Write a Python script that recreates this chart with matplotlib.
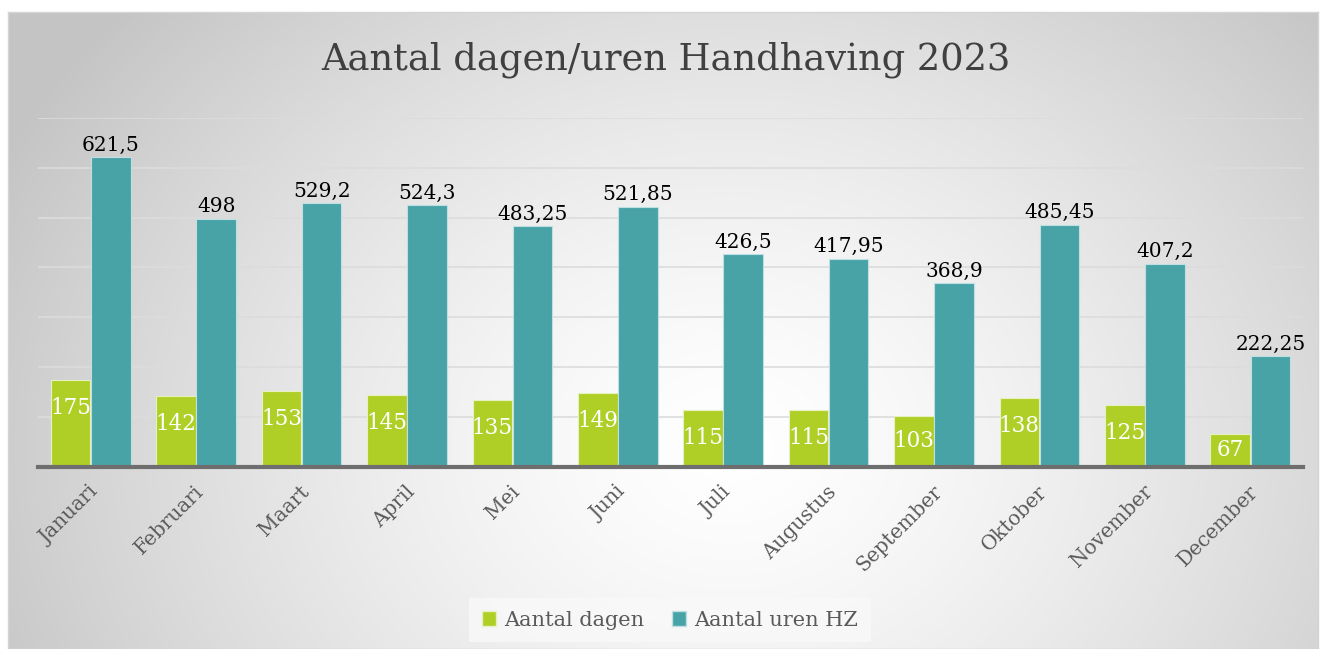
import numpy as np
import matplotlib
matplotlib.use("Agg")
import matplotlib.pyplot as plt
from matplotlib.patches import Patch

months = ["Januari", "Februari", "Maart", "April", "Mei", "Juni", "Juli",
          "Augustus", "September", "Oktober", "November", "December"]
dagen = [175, 142, 153, 145, 135, 149, 115, 115, 103, 138, 125, 67]
uren = [621.5, 498, 529.2, 524.3, 483.25, 521.85, 426.5, 417.95, 368.9,
        485.45, 407.2, 222.25]
uren_labels = ["621,5", "498", "529,2", "524,3", "483,25", "521,85", "426,5",
               "417,95", "368,9", "485,45", "407,2", "222,25"]
series_names = ["Aantal dagen", "Aantal uren HZ"]
title = "Aantal dagen/uren Handhaving 2023"

GREEN = "#afcf26"
TEAL = "#48a3a7"
FONT = "DejaVu Serif"

W, H = 1322, 649
fig = plt.figure(figsize=(W / 100, H / 100), dpi=100)
fig.patch.set_facecolor("white")

# gradient background panel
bg = fig.add_axes([8 / W, 0, 1 - 12 / W, 1 - 12 / H])
ny, nx = 300, 600
yy, xx = np.mgrid[0:ny, 0:nx]
cx, cy = 0.55 * nx, 0.68 * ny
r = np.sqrt(((xx - cx) / nx) ** 2 + ((yy - cy) / ny * 0.6) ** 2)
val = 1.0 - 0.23 * np.clip(r / 0.62, 0, 1) ** 1.4
img = np.dstack([val, val, val])
bg.imshow(img, aspect="auto", extent=[0, 1, 0, 1], origin="upper")
bg.set_xlim(0, 1)
bg.set_ylim(0, 1)
for s in bg.spines.values():
    s.set_color("#d4d4d4")
    s.set_linewidth(1)
bg.set_xticks([])
bg.set_yticks([])
bg.set_zorder(0)

ax = fig.add_axes([38 / W, 1 - 467 / H, (1303 - 38) / W, (467 - 117.8) / H])
ax.set_zorder(1)
ax.patch.set_alpha(0)
x = np.arange(len(months))
w = 0.375
off = 0.19
ax.bar(x - off, dagen, width=w, color=GREEN, edgecolor="#e6f0c0",
       linewidth=0.8, zorder=3)
ax.bar(x + off, uren, width=w, color=TEAL, edgecolor="#bfe0e2",
       linewidth=0.8, zorder=3)
ax.set_xlim(-0.5, len(months) - 0.5)
ax.set_ylim(0, 700)
ax.set_yticks(np.arange(100, 701, 100))
ax.yaxis.grid(True, color="#dcdcdc", linewidth=1.2, zorder=0)
ax.tick_params(axis="y", length=0, labelleft=False)
for s in ["left", "right", "top"]:
    ax.spines[s].set_visible(False)
ax.spines["bottom"].set_color("#6e6e6e")
ax.spines["bottom"].set_linewidth(3)
ax.spines["bottom"].set_zorder(4)
ax.set_xticks(x - 0.02)
ax.set_xticklabels(months, rotation=45, ha="right", rotation_mode="anchor",
                   fontsize=14.5, color="#5a5a5a", family=FONT)
ax.tick_params(axis="x", length=0, pad=11)

for xi, v in zip(x, dagen):
    ypos = max(v - 56, v / 2)
    ax.text(xi - off, ypos, str(v), ha="center", va="center", color="white",
            fontsize=15.5, family=FONT, zorder=5)
for xi, v, lab in zip(x, uren, uren_labels):
    ax.text(xi + off, v + 5, lab, ha="center", va="bottom", color="black",
            fontsize=14.5, family=FONT, zorder=5)

fig.text(0.504, 0.908, title, ha="center", va="center", fontsize=26.5,
         color="#404040", family=FONT)

handles = [Patch(facecolor=GREEN, edgecolor="#e6f0c0"),
           Patch(facecolor=TEAL, edgecolor="#bfe0e2")]
leg = fig.legend(handles, series_names, loc="center",
                 bbox_to_anchor=(670 / W, 1 - 620 / H),
                 ncol=2, frameon=True, fancybox=False,
                 prop={"family": FONT, "size": 15}, handlelength=0.7,
                 handleheight=0.7, handletextpad=0.4, columnspacing=1.3,
                 borderpad=0.6, borderaxespad=0)
leg.get_frame().set_facecolor("#f9f9f9")
leg.get_frame().set_edgecolor("none")
leg.get_frame().set_alpha(0.8)
for t in leg.get_texts():
    t.set_color("#5a5a5a")

fig.savefig("out.png", dpi=100)
